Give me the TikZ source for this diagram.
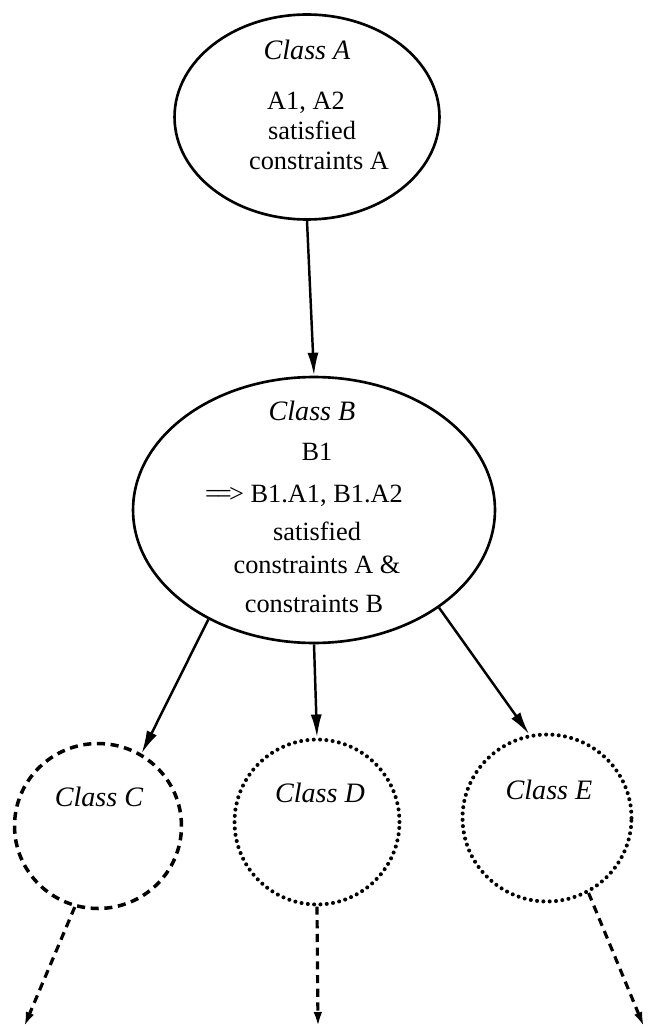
\documentclass[tikz,border=0pt]{standalone}
\usepackage{fontspec}
\setmainfont{Liberation Serif}
\usetikzlibrary{shapes.geometric,arrows.meta}
\begin{document}
\begin{tikzpicture}[x=0.02cm,y=-0.02cm,
  bigell/.style={draw,ellipse,line width=1.5pt,inner sep=0pt},
  circ/.style={draw,ellipse,inner sep=0pt},
  dashedcirc/.style={circ,line width=2pt,dash pattern=on 4.6pt off 3.2pt},
  dottedcirc/.style={circ,line width=2.3pt,line cap=round,dash pattern=on 0pt off 3.6pt},
  txt/.style={anchor=base,inner sep=0pt,font=\fontsize{15}{18}\selectfont},
  itxt/.style={txt,font=\fontsize{16}{19}\selectfont\itshape},
  solidarrow/.style={-{Latex[length=4.6mm,width=2.2mm]},line width=1.4pt},
  dasharrow/.style={-{Latex[open,length=3mm,width=1.7mm]},line width=1.8pt,dash pattern=on 4.6pt off 3.2pt}
]
\useasboundingbox (0,0) rectangle (651,1030);
% ellipses
\node[bigell,minimum width=5.3cm,minimum height=4.1cm] (A) at (307,117) {};
\node[bigell,minimum width=7.24cm,minimum height=5.32cm] (B) at (314,510) {};
\node[dashedcirc,minimum width=3.34cm,minimum height=3.3cm] (C) at (98,826) {};
\node[dottedcirc,minimum width=3.3cm,minimum height=3.3cm] (D) at (317,822) {};
\node[dottedcirc,minimum width=3.38cm,minimum height=3.34cm] (E) at (547,818) {};
% texts of A
\node[itxt] (a0) at (307,60) {Class A};
\node[txt] (a1) at (306,110) {A1, A2};
\node[txt] (a2) at (312,140) {satisfied};
\node[txt] (a3) at (319,170) {constraints A};
% texts of B
\node[itxt] (b0) at (312,420) {Class B};
\node[txt] (b1) at (317,460) {B1};
\node[txt] (b2) at (304,502) {=\kern-0.12em=\kern-0.1em\textgreater\ B1.A1, B1.A2};
\node[txt] (b3) at (317,540) {satisfied};
\node[txt] (b4) at (317,573) {constraints A \&};
\node[txt] (b5) at (314,612) {constraints B};
% texts of C, D, E
\node[itxt] (c0) at (99,806) {Class C};
\node[itxt] (d0) at (320,802) {Class D};
\node[itxt] (e0) at (549,799) {Class E};
% connectors
\draw[solidarrow] (A.south) -- (B.north);
\draw[solidarrow] (B.226) -- (C.59);
\draw[solidarrow] (B.south) -- (D.north);
\draw[solidarrow] (B.322) -- (E.102);
\coordinate (cend) at (24,1027);
\coordinate (dend) at (318,1027);
\coordinate (eend) at (644,1027);
\draw[dasharrow] (C.254) -- (cend);
\draw[dasharrow] (D.south) -- (dend);
\draw[dasharrow] (E.299) -- (eend);
\end{tikzpicture}
\end{document}
